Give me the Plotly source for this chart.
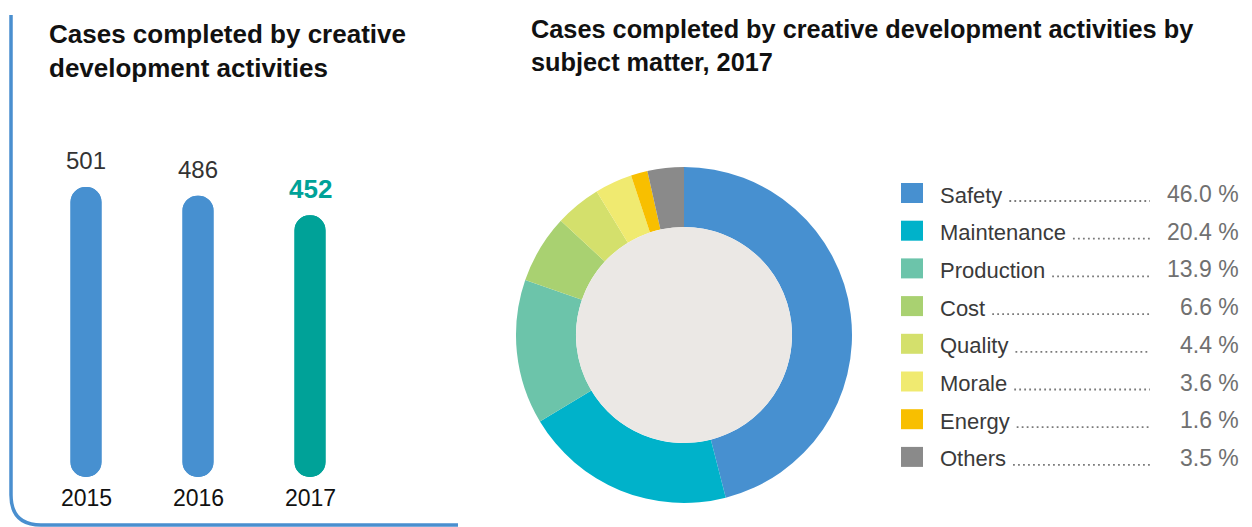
import plotly.graph_objects as go

# ---- data ----
years = ["2015", "2016", "2017"]
cases = [501, 486, 452]
bar_colors = ["#4790d0", "#4790d0", "#00a298"]

subjects = ["Safety", "Maintenance", "Production", "Cost", "Quality", "Morale", "Energy", "Others"]
shares = [46.0, 20.4, 13.9, 6.6, 4.4, 3.6, 1.6, 3.5]
subject_colors = ["#4790d0", "#00b2ca", "#6cc4aa", "#a9d171", "#d4e06c", "#f0ea70", "#f8bf00", "#8a8a8a"]

W, H = 1252, 527
FONT = "Liberation Sans, Arial, Helvetica, sans-serif"


def px(x):
    return x / W


def py(y):
    return 1 - y / H


# approximate Arial / Liberation Sans advance widths (per 1000 em)
ADV = {" ": 278, "S": 667, "a": 556, "f": 278, "e": 556, "t": 278, "y": 500, "M": 833,
       "i": 222, "n": 556, "c": 500, "P": 667, "r": 333, "o": 556, "d": 556, "u": 556,
       "C": 722, "s": 500, "Q": 778, "l": 222, "E": 667, "g": 556, "O": 778, "h": 556}


def text_width(s, size):
    return sum(ADV.get(ch, 556) for ch in s) * size / 1000.0


fig = go.Figure()

# capsule bars: one half rounded at the top, one half rounded at the bottom
idx = list(range(len(years)))
fig.add_trace(go.Bar(x=idx, y=cases, base=[0] * len(cases), width=0.277,
                     marker=dict(color=bar_colors, cornerradius="50%", line=dict(width=0)),
                     hoverinfo="skip", showlegend=False))
fig.add_trace(go.Bar(x=idx, y=[-v for v in cases], base=cases, width=0.277,
                     marker=dict(color=bar_colors, cornerradius="50%", line=dict(width=0)),
                     hoverinfo="skip", showlegend=False))

# donut
cx, cy, R = 684, 335, 168
hole = 0.643
fig.add_trace(go.Pie(labels=subjects, values=shares, sort=False, direction="clockwise",
                     rotation=0, hole=hole, textinfo="none", hoverinfo="label+percent",
                     marker=dict(colors=subject_colors, line=dict(width=0)),
                     domain=dict(x=[px(cx - R), px(cx + R)], y=[py(cy + R), py(cy - R)]),
                     showlegend=False))

shapes = []
annotations = []

# light fill inside the donut hole
r_in = R * hole
shapes.append(dict(type="circle", xref="paper", yref="paper",
                   x0=px(cx - r_in), x1=px(cx + r_in), y0=py(cy + r_in), y1=py(cy - r_in),
                   fillcolor="#ebe8e5", line=dict(width=0), layer="above"))

# panel border on the left
r = 30
path = (f"M {px(11)},{py(15)} L {px(11)},{py(525 - r)} "
        f"Q {px(11)},{py(525)} {px(11 + r)},{py(525)} L {px(458)},{py(525)}")
shapes.append(dict(type="path", xref="paper", yref="paper", path=path,
                   line=dict(color="#4a8fcf", width=3.5), layer="below"))

# titles
annotations.append(dict(xref="paper", yref="paper", x=px(47), y=py(17), xanchor="left", yanchor="top",
                        align="left", showarrow=False,
                        text="<b>Cases completed by creative<br>development activities</b>",
                        font=dict(family=FONT, size=26, color="#111111")))
annotations.append(dict(xref="paper", yref="paper", x=px(529), y=py(13), xanchor="left", yanchor="top",
                        align="left", showarrow=False,
                        text="<b>Cases completed by creative development activities by<br>subject matter, 2017</b>",
                        font=dict(family=FONT, size=25.3, color="#111111")))

# bar value labels and year labels
for i, (yr, v) in enumerate(zip(years, cases)):
    last = i == len(years) - 1
    annotations.append(dict(x=i, y=v, xref="x", yref="y", yanchor="middle", yshift=26, showarrow=False,
                            text=f"<b>{v}</b>" if last else str(v),
                            font=dict(family=FONT, size=26 if last else 24,
                                      color=bar_colors[i] if last else "#333333")))
    annotations.append(dict(x=i, y=0, xref="x", yref="y", yanchor="middle", yshift=-21, showarrow=False,
                            text=yr, font=dict(family=FONT, size=23, color="#111111")))

# legend with dotted leaders
row0, step = 193, 37.7
lab_x, val_x, lead_end = 938, 1241, 1150
LSIZE = 22
for k, (name, val, col) in enumerate(zip(subjects, shares, subject_colors)):
    yc = row0 + k * step
    shapes.append(dict(type="rect", xref="paper", yref="paper",
                       x0=px(901), x1=px(923), y0=py(yc + 10), y1=py(yc - 10),
                       fillcolor=col, line=dict(width=0)))
    annotations.append(dict(xref="paper", yref="paper", x=px(lab_x), y=py(yc + 2), xanchor="left",
                            yanchor="middle", showarrow=False, text=name,
                            font=dict(family=FONT, size=LSIZE, color="#3a3a3a")))
    annotations.append(dict(xref="paper", yref="paper", x=px(val_x), y=py(yc + 1), xanchor="right",
                            yanchor="middle", showarrow=False, text=f"{val:.1f} %",
                            font=dict(family=FONT, size=23, color="#707070")))
    x_start = lab_x + text_width(name, LSIZE) + 9
    shapes.append(dict(type="line", xref="paper", yref="paper",
                       x0=px(x_start), x1=px(lead_end), y0=py(yc + 8), y1=py(yc + 8),
                       line=dict(color="#7a7a7a", width=1.8, dash="1.8px,3.2px")))

# cartesian axes for the bars, scaled so 0 sits at y=477 px and 501 at y=187 px
unit = (477 - 187) / 501.0
y_top_px = 100
fig.update_layout(
    width=W, height=H,
    margin=dict(l=0, r=0, t=0, b=0),
    paper_bgcolor="white", plot_bgcolor="rgba(0,0,0,0)",
    barmode="overlay",
    xaxis=dict(domain=[px(20), px(440)], range=[(20 - 86) / 112, (440 - 86) / 112],
               visible=False, fixedrange=True),
    yaxis=dict(domain=[py(477), py(y_top_px)], range=[0, (477 - y_top_px) / unit],
               visible=False, fixedrange=True),
    shapes=shapes,
    annotations=annotations,
    showlegend=False,
)

fig.write_html("out.html", config={"displayModeBar": False})
